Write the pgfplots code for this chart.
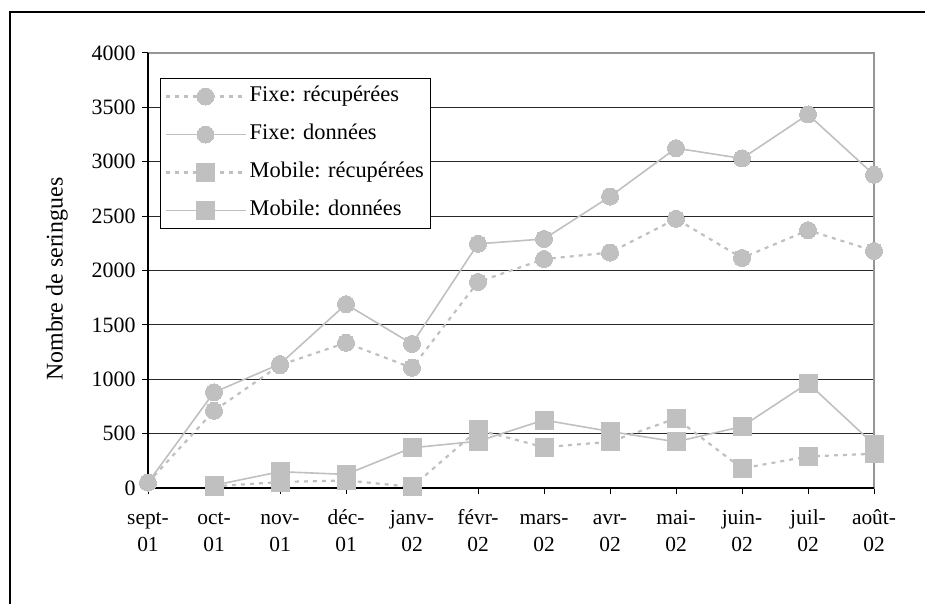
\documentclass[border=0pt]{standalone}
\usepackage{pgfplots}
\pgfplotsset{compat=1.18}
\usepackage{fontspec}
\setmainfont{Liberation Serif}
\definecolor{ser}{RGB}{192,192,192}
\definecolor{frm}{RGB}{150,150,150}
\definecolor{grd}{RGB}{40,40,40}
\begin{document}
\begin{tikzpicture}
\useasboundingbox (0,0) rectangle (925bp,604bp);
\draw[black, line width=1.5bp] (10bp,0bp) -- (10bp,592bp) -- (925bp,592bp);
\begin{axis}[
  at={(148bp,116bp)}, anchor=south west,
  scale only axis, width=726bp, height=435bp,
  xmin=0, xmax=11, ymin=0, ymax=4000,
  xtick={0,...,11},
  xticklabels={{\strut sept-\\\strut 01},{\strut oct-\\\strut 01},{\strut nov-\\\strut 01},{\strut déc-\\\strut 01},{\strut janv-\\\strut 02},{\strut févr-\\\strut 02},{\strut mars-\\\strut 02},{\strut avr-\\\strut 02},{\strut mai-\\\strut 02},{\strut juin-\\\strut 02},{\strut juil-\\\strut 02},{\strut août-\\\strut 02}},
  xticklabel style={align=center, font=\fontsize{21.5}{28}\selectfont, anchor=north, yshift=-7bp},
  ytick={0,500,...,3500},
  extra y ticks={4000}, extra y tick style={grid=none},
  yticklabel style={font=\fontsize{22}{24}\selectfont, xshift=-3bp},
  /pgf/number format/assume math mode=true,
  /pgf/number format/1000 sep={},
  scaled y ticks=false,
  ymajorgrids, grid style={grd, line width=1bp},
  tick align=outside, major tick length=6bp,
  tick style={black, line width=1bp},
  xtick pos=bottom, ytick pos=left,
  axis line style={frm, line width=1.5bp},
  ylabel={Nombre de seringues},
  ylabel style={at={(axis description cs:-0.1253,0.48)}, anchor=center, font=\fontsize{24}{26}\selectfont},
  clip=false,
  legend cell align=left,
  legend style={at={(axis description cs:0.0165,0.9425)}, anchor=north west,
    draw=black, line width=1bp, inner xsep=4bp, inner ysep=8bp, row sep=18bp,
    font=\fontsize{22.5}{26}\selectfont,
    nodes={text height=15bp, text depth=5bp, inner sep=0bp, inner xsep=3bp}},
  legend image code/.code={\draw[mark repeat=2, mark phase=2, #1] plot coordinates {(0bp,0bp) (40bp,0bp) (80bp,0bp)};},
]
\addplot[ser, line width=2.2bp, dash pattern=on 4bp off 5bp, mark=*, mark size=8.5bp, mark options={solid, fill=ser, draw=ser, line width=0bp}]
 coordinates {(0,50) (1,710) (2,1130) (3,1335) (4,1105) (5,1895) (6,2105) (7,2165) (8,2475) (9,2115) (10,2370) (11,2180)};
\addlegendentry{Fixe: récupérées}
\addplot[ser, line width=1.6bp, mark=*, mark size=8.5bp, mark options={solid, fill=ser, draw=ser, line width=0bp}]
 coordinates {(0,50) (1,880) (2,1140) (3,1690) (4,1325) (5,2245) (6,2290) (7,2680) (8,3125) (9,3030) (10,3435) (11,2880)};
\addlegendentry{Fixe: données}
\addplot[ser, line width=2.2bp, dash pattern=on 4bp off 5bp, mark=square*, mark size=9bp, mark options={solid, fill=ser, draw=ser, line width=0bp}]
 coordinates {(1,15) (2,55) (3,70) (4,10) (5,535) (6,375) (7,425) (8,640) (9,180) (10,290) (11,315)};
\addlegendentry{Mobile: récupérées}
\addplot[ser, line width=1.6bp, mark=square*, mark size=9bp, mark options={solid, fill=ser, draw=ser, line width=0bp}]
 coordinates {(1,25) (2,150) (3,125) (4,370) (5,430) (6,625) (7,520) (8,425) (9,565) (10,965) (11,400)};
\addlegendentry{Mobile: données}
\draw[black, line width=1.5bp] (rel axis cs:0,1) -- (rel axis cs:0,0) -- (rel axis cs:1,0);
\end{axis}
\end{tikzpicture}
\end{document}
